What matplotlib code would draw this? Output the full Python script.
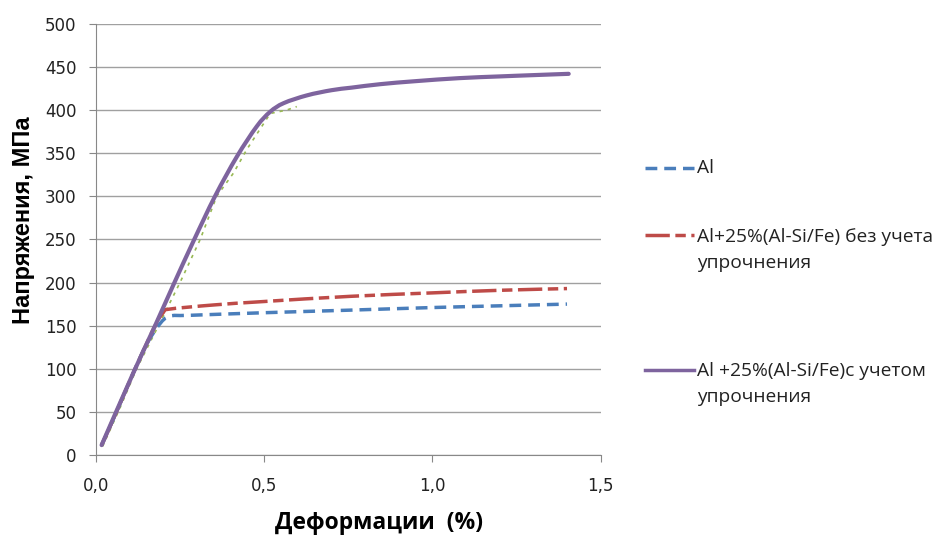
import matplotlib
matplotlib.use("Agg")
import matplotlib.pyplot as plt
from matplotlib.lines import Line2D
from matplotlib.path import Path
from matplotlib.patches import PathPatch
from matplotlib.ticker import FuncFormatter

# Data (strain %, stress MPa)
al_x = [0.017, 0.05, 0.111, 0.15, 0.19, 0.22, 0.28, 0.5, 0.756, 1.0, 1.2, 1.4]
al_y = [11.5, 40, 95, 128, 152, 161, 162, 165, 168, 171, 173, 175]

red_x = [0.017, 0.05, 0.111, 0.176, 0.2, 0.215, 0.35, 0.5, 0.756, 1.0, 1.2, 1.4]
red_y = [11.5, 40, 95, 150, 165, 169, 174, 178, 184, 188, 191, 193]

pur_x = [0.017, 0.111, 0.176, 0.23, 0.29, 0.354, 0.419, 0.478, 0.518, 0.558,
         0.627, 0.7, 0.76, 0.845, 0.95, 1.08, 1.2, 1.3, 1.405]
pur_y = [11.5, 95, 150, 197, 248, 300, 346, 381, 398, 408,
         417, 423, 426, 430, 433.5, 437, 439, 440.5, 442]

grn_x = [0.02, 0.071, 0.121, 0.186, 0.25, 0.31, 0.359, 0.409, 0.448, 0.518, 0.567, 0.597]
grn_y = [10, 54, 100, 150, 200, 250, 300, 327, 354, 396, 400, 404]

labels = ["Al",
          "Al+25%(Al-Si/Fe) без учета\nупрочнения",
          "Al +25%(Al-Si/Fe)c учетом\nупрочнения"]

c_blue = "#4A7EBB"
c_red = "#BE4B48"
c_pur = "#7E649E"
c_grn = "#98B954"

blue_ls = (0, (3.4, 2))
red_ls = (0, (7, 1.6, 3, 1.6))


def smooth_path(xs, ys, t=1.0 / 6):
    """Excel-like smoothed line: Catmull-Rom segments as cubic Bezier curves."""
    pts = list(zip(xs, ys))
    verts = [pts[0]]
    codes = [Path.MOVETO]
    n = len(pts)
    for i in range(n - 1):
        p0 = pts[i - 1] if i > 0 else pts[i]
        p1 = pts[i]
        p2 = pts[i + 1]
        p3 = pts[i + 2] if i + 2 < n else pts[i + 1]
        c1 = (p1[0] + (p2[0] - p0[0]) * t, p1[1] + (p2[1] - p0[1]) * t)
        c2 = (p2[0] - (p3[0] - p1[0]) * t, p2[1] - (p3[1] - p1[1]) * t)
        verts += [c1, c2, p2]
        codes += [Path.CURVE4] * 3
    return Path(verts, codes)


fig = plt.figure(figsize=(9.4, 5.35), dpi=100)
ax = fig.add_axes([0.102, 0.1495, 0.537, 0.806])

ax.plot(grn_x, grn_y, color=c_grn, lw=1.2, ls=(0, (2, 3)), zorder=2)
ax.add_patch(PathPatch(smooth_path(al_x, al_y), fill=False, edgecolor=c_blue,
                       lw=2.5, ls=blue_ls, zorder=3))
ax.add_patch(PathPatch(smooth_path(red_x, red_y), fill=False, edgecolor=c_red,
                       lw=2.5, ls=red_ls, zorder=3))
ax.add_patch(PathPatch(smooth_path(pur_x, pur_y), fill=False, edgecolor=c_pur,
                       lw=3.0, zorder=4, capstyle="round", joinstyle="round"))

ax.set_xlim(0, 1.5)
ax.set_ylim(0, 500)
ax.set_xticks([0, 0.5, 1.0, 1.5])
ax.set_yticks(range(0, 501, 50))
ax.xaxis.set_major_formatter(FuncFormatter(lambda v, p: f"{v:.1f}".replace(".", ",")))
ax.yaxis.grid(True, color="#A0A0A0", lw=1)
ax.set_axisbelow(True)
for s in ["top", "right"]:
    ax.spines[s].set_visible(False)
for s in ["left", "bottom"]:
    ax.spines[s].set_color("#888888")
ax.tick_params(axis="both", colors="#888888", labelcolor="#222222", labelsize=12, length=5)
ax.tick_params(axis="x", pad=11)
ax.tick_params(axis="y", pad=9)

ax.set_xlabel("Деформации  (%)", fontsize=16.5, fontweight="bold",
              family=["Open Sans", "DejaVu Sans"], va="center")
ax.xaxis.set_label_coords(0.561, -0.157)
ax.set_ylabel("Напряжения, МПа", fontsize=17, fontweight="bold",
              family=["Liberation Sans", "DejaVu Sans"], va="center")
ax.yaxis.set_label_coords(-0.143, 0.545)

# manual legend
entries = [
    (c_blue, blue_ls, 168, 168),
    (c_red, red_ls, 235, 250),
    (c_pur, "-", 370, 384),
]
W, H = 940, 535
for (col, ls, ly, ty), lab in zip(entries, labels):
    fig.add_artist(Line2D([645 / W, 694 / W], [1 - ly / H, 1 - ly / H],
                          color=col, lw=2.5, ls=ls, transform=fig.transFigure))
    fig.text(697 / W, 1 - ty / H, lab, fontsize=13.8, color="#222222",
             family=["Open Sans", "DejaVu Sans"],
             va="center", ha="left", linespacing=1.5)

fig.savefig("out.png", dpi=100)
